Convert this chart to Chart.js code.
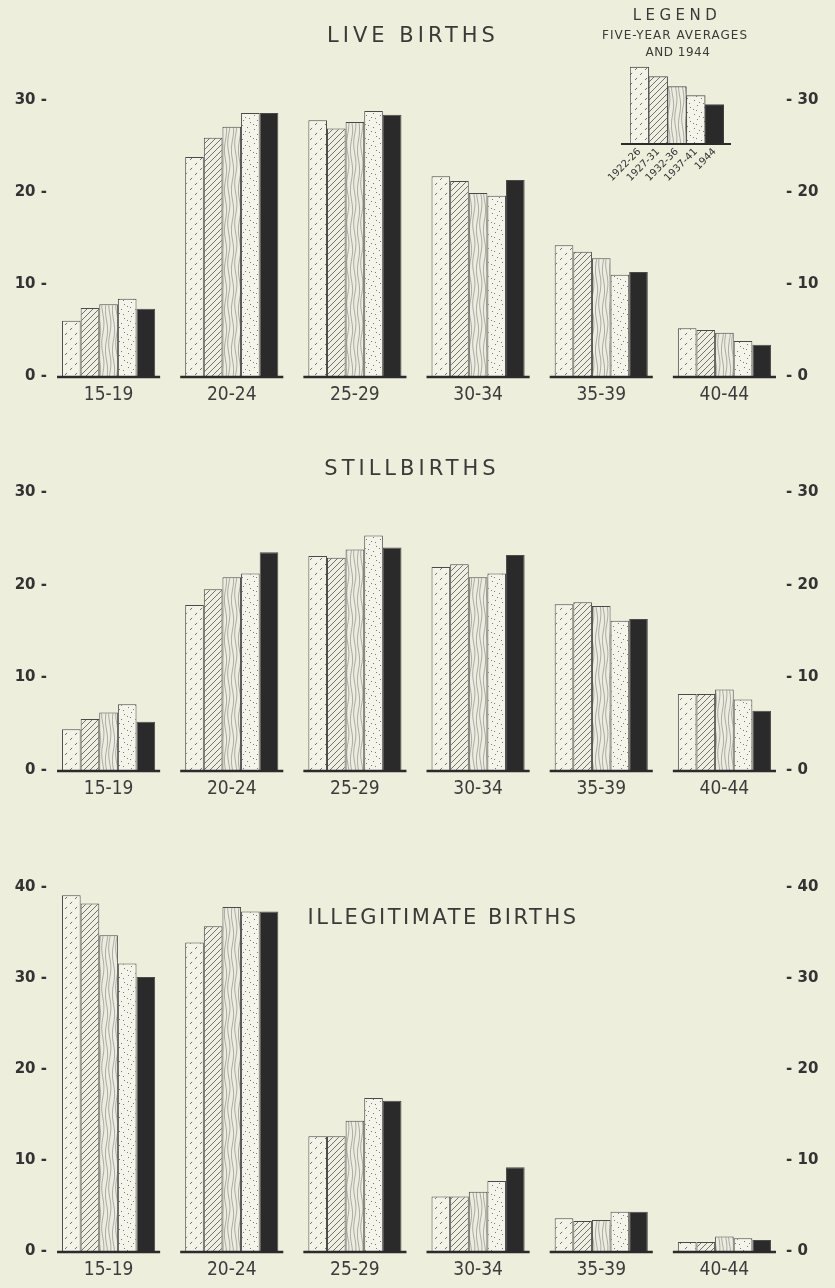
<!DOCTYPE html>
<html>
<head>
<meta charset="utf-8">
<title>Live births, stillbirths and illegitimate births by age of mother</title>
<script src="https://cdn.jsdelivr.net/npm/chart.js@4.4.0/dist/chart.umd.min.js"></script>
<style>
  body { margin: 0; background: #eeeedd; }
  #page { position: relative; width: 835px; height: 1288px; overflow: hidden; background: #eeeedd; }
  canvas { position: absolute; }
  .txt {
    position: absolute;
    transform: translate(-50%, -50%);
    white-space: nowrap;
    font-family: 'DejaVu Sans', sans-serif;
    color: #3a3a38;
    z-index: 2;
  }
  .title { font-size: 21px; letter-spacing: 4px; }
</style>
</head>
<body>
<div id="page">
  <canvas id="live" width="835" height="410" style="left:0;top:0"></canvas>
  <canvas id="still" width="835" height="394" style="left:0;top:410px"></canvas>
  <canvas id="illeg" width="835" height="481" style="left:0;top:804px"></canvas>
  <canvas id="legend" width="180" height="138" style="left:580px;top:55px"></canvas>

  <div class="txt title" style="left:413px;top:35px">LIVE BIRTHS</div>
  <div class="txt title" style="left:412px;top:468px">STILLBIRTHS</div>
  <div class="txt title" style="left:443px;top:917px;letter-spacing:2.5px">ILLEGITIMATE BIRTHS</div>

  <div class="txt" style="left:677px;top:15px;font-size:15px;letter-spacing:4.5px">LEGEND</div>
  <div class="txt" style="left:675px;top:35px;font-size:12px;letter-spacing:1px">FIVE-YEAR AVERAGES</div>
  <div class="txt" style="left:678px;top:52px;font-size:12px;letter-spacing:0.5px">AND 1944</div>
</div>

<script>
// age groups of mothers and the five periods compared
const ageGroups = ['15-19', '20-24', '25-29', '30-34', '35-39', '40-44'];
const periods = ['1922-26', '1927-31', '1932-36', '1937-41', '1944'];

// live births, per cent by age group
const live_1922_26 = [6.0, 23.8, 27.8, 21.7, 14.2, 5.2];
const live_1927_31 = [7.4, 25.9, 26.9, 21.2, 13.5, 5.0];
const live_1932_36 = [7.8, 27.1, 27.6, 19.9, 12.8, 4.7];
const live_1937_41 = [8.4, 28.6, 28.8, 19.6, 11.0, 3.8];
const live_1944 = [7.3, 28.6, 28.4, 21.3, 11.3, 3.4];

// stillbirths
const still_1922_26 = [4.4, 17.8, 23.1, 21.9, 17.9, 8.2];
const still_1927_31 = [5.5, 19.5, 22.9, 22.2, 18.1, 8.2];
const still_1932_36 = [6.2, 20.8, 23.8, 20.8, 17.7, 8.7];
const still_1937_41 = [7.1, 21.2, 25.3, 21.2, 16.1, 7.6];
const still_1944 = [5.2, 23.5, 24.0, 23.2, 16.3, 6.4];

// illegitimate births
const illeg_1922_26 = [39.1, 33.9, 12.6, 6.0, 3.6, 1.0];
const illeg_1927_31 = [38.2, 35.7, 12.6, 6.0, 3.3, 1.0];
const illeg_1932_36 = [34.7, 37.8, 14.3, 6.5, 3.4, 1.6];
const illeg_1937_41 = [31.6, 37.3, 16.8, 7.7, 4.3, 1.4];
const illeg_1944 = [30.1, 37.3, 16.5, 9.2, 4.3, 1.2];

// heights of the sample bars in the legend
const legendHeights = [76, 66.5, 56.5, 47.5, 38.5];

const yTicks = [0, 10, 20, 30, 40];

// --- bar fills (hand-drawn style hatchings) ---
function tile(w, h, bg, draw) {
  const c = document.createElement('canvas');
  c.width = w;
  c.height = h;
  const g = c.getContext('2d');
  g.fillStyle = bg;
  g.fillRect(0, 0, w, h);
  draw(g);
  return document.createElement('canvas').getContext('2d').createPattern(c, 'repeat');
}

const dashDiag = tile(10, 10, '#f3f3e7', (g) => {
  g.strokeStyle = '#707070';
  g.lineWidth = 1;
  g.setLineDash([3, 4.07]);
  g.beginPath();
  g.moveTo(0, 10);
  g.lineTo(10, 0);
  g.stroke();
});

const hatch = tile(6, 6, '#efefe2', (g) => {
  g.strokeStyle = '#626262';
  g.lineWidth = 0.9;
  g.beginPath();
  g.moveTo(0, 6); g.lineTo(6, 0);
  g.moveTo(-1, 1); g.lineTo(1, -1);
  g.moveTo(5, 7); g.lineTo(7, 5);
  g.stroke();
});

const grain = tile(7, 40, '#ecece0', (g) => {
  g.strokeStyle = '#9c9c96';
  g.lineWidth = 0.8;
  [1.5, 4.8].forEach((x0, k) => {
    g.beginPath();
    for (let y = 0; y <= 40; y += 2) {
      const x = x0 + 1.1 * Math.sin((y / 40) * Math.PI * 2 + k);
      if (y === 0) g.moveTo(x, y); else g.lineTo(x, y);
    }
    g.stroke();
  });
});

const stipple = tile(14, 14, '#f4f4ea', (g) => {
  g.fillStyle = '#7a7a7a';
  [[2, 3], [9, 1], [5, 8], [12, 10], [1, 12], [7, 5], [11, 6], [4, 13]].forEach(([x, y]) => g.fillRect(x, y, 1, 1));
});

const fills = [dashDiag, hatch, grain, stipple, '#2a2a2a'];

// short heavy base line under every group of bars
const baseLines = {
  id: 'baseLines',
  afterDatasetsDraw(chart, args, opts) {
    const { ctx } = chart;
    const y = chart.scales.y.getPixelForValue(0) + 1;
    const first = chart.getDatasetMeta(0).data;
    const last = chart.getDatasetMeta(chart.data.datasets.length - 1).data;
    const groups = opts.whole ? [[first[0], last[last.length - 1]]] : first.map((b, i) => [b, last[i]]);
    ctx.save();
    ctx.strokeStyle = '#2b2b2b';
    ctx.lineWidth = opts.width;
    groups.forEach(([a, b]) => {
      ctx.beginPath();
      ctx.moveTo(a.x - a.width / 2 - opts.left, y);
      ctx.lineTo(b.x + b.width / 2 + opts.right, y);
      ctx.stroke();
    });
    ctx.restore();
  },
};

Chart.defaults.font.family = "'DejaVu Sans', sans-serif";
Chart.defaults.color = '#363636';

function drawPanel(id, padTop, yMax, series) {
  const ticks = yTicks.filter((t) => t <= yMax);
  const yAxis = (side, width, fmt) => ({
    position: side,
    min: 0,
    max: yMax,
    afterBuildTicks: (s) => { s.ticks = ticks.map((v) => ({ value: v })); },
    afterFit: (s) => { s.width = width; },
    grid: { display: false, drawTicks: false },
    border: { display: false },
    ticks: { padding: 0, font: { size: 15, weight: 'bold' }, color: '#333', callback: fmt },
  });

  return new Chart(document.getElementById(id), {
    type: 'bar',
    data: {
      labels: ageGroups,
      datasets: series.map((values, i) => ({
        label: periods[i],
        data: values,
        backgroundColor: fills[i],
        borderColor: '#4a4a4a',
        borderWidth: 1,
        categoryPercentage: 0.756,
        barPercentage: 1,
        yAxisID: 'y',
      })),
    },
    options: {
      responsive: false,
      animation: false,
      layout: { padding: { top: padTop, bottom: 0, left: 0, right: 0 } },
      plugins: {
        legend: { display: false },
        tooltip: { enabled: false },
        baseLines: { width: 2.5, left: 5, right: 5 },
      },
      scales: {
        x: {
          afterFit: (s) => { s.height = 34; },
          grid: { display: false, drawTicks: false },
          border: { display: false },
          ticks: {
            padding: 8,
            color: '#3c3c3c',
            font: { family: "'Liberation Sans Narrow', 'DejaVu Sans Condensed', 'Roboto Condensed', 'DejaVu Sans', sans-serif", size: 19 },
          },
        },
        y: yAxis('left', 47, (v) => v + ' -'),
        y2: yAxis('right', 49, (v) => '- ' + v),
      },
    },
    plugins: [baseLines],
  });
}

drawPanel('live', 100, 30, [live_1922_26, live_1927_31, live_1932_36, live_1937_41, live_1944]);
drawPanel('still', 82, 30, [still_1922_26, still_1927_31, still_1932_36, still_1937_41, still_1944]);
drawPanel('illeg', 83, 40, [illeg_1922_26, illeg_1927_31, illeg_1932_36, illeg_1937_41, illeg_1944]);

// legend: small sample bars with slanted period labels
new Chart(document.getElementById('legend'), {
  type: 'bar',
  data: {
    labels: periods,
    datasets: [{
      data: legendHeights,
      backgroundColor: fills,
      borderColor: '#4a4a4a',
      borderWidth: 1,
      categoryPercentage: 1,
      barPercentage: 1,
    }],
  },
  options: {
    responsive: false,
    animation: false,
    layout: { padding: { top: 8, bottom: 0, left: 50, right: 36 } },
    plugins: {
      legend: { display: false },
      tooltip: { enabled: false },
      baseLines: { width: 2, left: 9, right: 7, whole: true },
    },
    scales: {
      x: {
        afterFit: (s) => { s.height = 50; },
        grid: { display: false, drawTicks: false },
        border: { display: false },
        ticks: { padding: 3, autoSkip: false, minRotation: 45, maxRotation: 45, font: { size: 10 }, color: '#333' },
      },
      y: { display: false, min: 0, max: 80 },
    },
  },
  plugins: [baseLines],
});
</script>
</body>
</html>
